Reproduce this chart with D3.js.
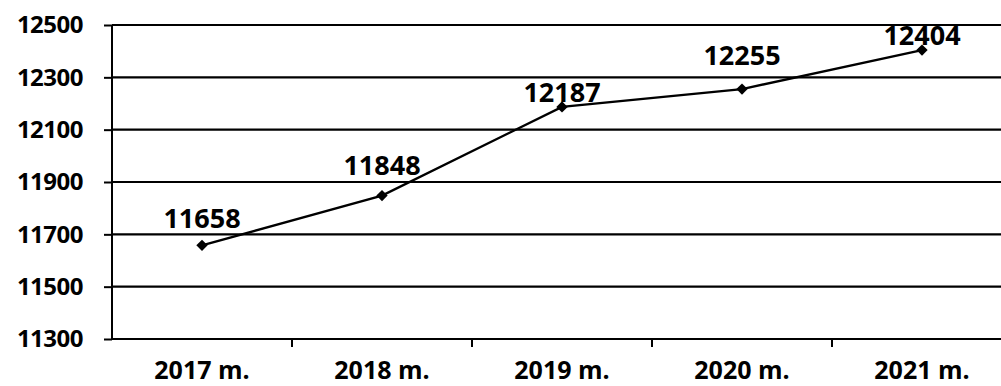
<!DOCTYPE html>
<html>
<head>
<meta charset="utf-8">
<script src="https://cdn.jsdelivr.net/npm/d3@7/dist/d3.min.js"></script>
<style>
  html, body { margin: 0; padding: 0; background: #fff; }
  svg { display: block; }
  text { font-family: "Open Sans", sans-serif; font-weight: 700; fill: #000; }
</style>
</head>
<body>
<svg id="chart" width="1001" height="386"></svg>
<script>
// ── Data ──────────────────────────────────────────────────────────────────────
const years = ['2017 m.', '2018 m.', '2019 m.', '2020 m.', '2021 m.'];
const values = [11658, 11848, 12187, 12255, 12404];
const yTicks = [11300, 11500, 11700, 11900, 12100, 12300, 12500];

// label lift above each point (px) – labels were hand-placed in the original
const labelLift = [17, 21, 5, 24, 5];

// ── Layout ────────────────────────────────────────────────────────────────────
const plot = { left: 112, right: 1012, top: 25, bottom: 339 };
const svg = d3.select('#chart');

const x = d3.scaleBand().domain(years).range([plot.left, plot.right]);
const y = d3.scaleLinear().domain([11300, 12500]).range([plot.bottom, plot.top]);

// horizontal gridlines
svg.append('g')
  .selectAll('line')
  .data(yTicks)
  .join('line')
  .attr('x1', plot.left).attr('x2', plot.right)
  .attr('y1', d => y(d)).attr('y2', d => y(d))
  .attr('stroke', '#000').attr('stroke-width', 2.2);

// y axis
const yAxis = svg.append('g')
  .attr('transform', `translate(${plot.left},0)`)
  .call(d3.axisLeft(y).tickValues(yTicks).tickFormat(d3.format('d')).tickSize(8).tickPadding(21));
yAxis.select('.domain').attr('stroke-width', 2).attr('d', `M0,${plot.top}V${plot.bottom}`);
yAxis.selectAll('.tick line').attr('stroke-width', 2);
yAxis.selectAll('.tick text')
  .attr('font-size', 24)
  .attr('font-family', '"Open Sans", sans-serif')
  .attr('font-weight', 700)
  .attr('letter-spacing', -0.5);

// x axis: ticks sit on band boundaries
const xAxis = svg.append('g').attr('transform', `translate(0,${plot.bottom})`);
xAxis.selectAll('line')
  .data(years.slice(1))
  .join('line')
  .attr('x1', d => x(d)).attr('x2', d => x(d))
  .attr('y1', 0).attr('y2', 8)
  .attr('stroke', '#000').attr('stroke-width', 2);
xAxis.selectAll('text')
  .data(years)
  .join('text')
  .attr('x', d => x(d) + x.bandwidth() / 2)
  .attr('y', 40)
  .attr('text-anchor', 'middle')
  .attr('font-size', 25)
  .text(d => d);

// series line
const pts = years.map((d, i) => ({ year: d, value: values[i], lift: labelLift[i] }));
const cx = d => x(d.year) + x.bandwidth() / 2;
const line = d3.line().x(cx).y(d => y(d.value));

svg.append('path')
  .datum(pts)
  .attr('d', line)
  .attr('fill', 'none')
  .attr('stroke', '#000')
  .attr('stroke-width', 2.4);

// diamond markers (rotated squares)
svg.append('g')
  .selectAll('path')
  .data(pts)
  .join('path')
  .attr('d', d3.symbol(d3.symbolSquare, 64))
  .attr('transform', d => `translate(${cx(d)},${y(d.value)}) rotate(45)`)
  .attr('fill', '#000');

// data labels
svg.append('g')
  .selectAll('text')
  .data(pts)
  .join('text')
  .attr('x', cx)
  .attr('y', d => y(d.value) - d.lift)
  .attr('text-anchor', 'middle')
  .attr('font-size', 27)
  .text(d => d.value);
</script>
</body>
</html>
